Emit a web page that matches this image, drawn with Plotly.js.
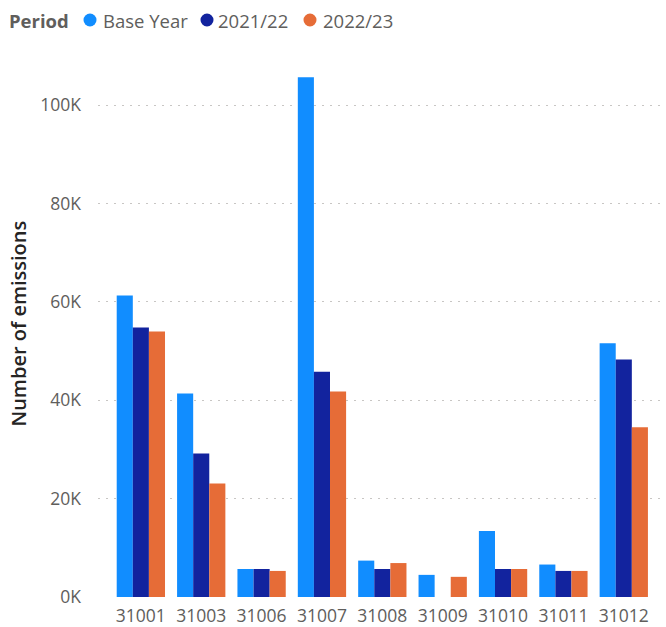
<!DOCTYPE html>
<html>
<head>
<meta charset="utf-8">
<script src="https://cdn.plot.ly/plotly-3.0.1.min.js"></script>
<style>
html,body{margin:0;padding:0;background:#fff;}
#chart{width:666px;height:627px;}
</style>
</head>
<body>
<div id="chart"></div>
<script>
const categories = ["31001","31003","31006","31007","31008","31009","31010","31011","31012"];
const seriesNames = ["Base Year","2021/22","2022/23"];
const legendTitle = "Period";
const yTitle = "Number of emissions";
const baseYear = [61300, 41400, 5700, 105700, 7400, 4500, 13400, 6600, 51600];
const y2021 = [54800, 29200, 5700, 45800, 5700, null, 5700, 5300, 48300];
const y2022 = [54000, 23100, 5300, 41800, 6900, 4100, 5700, 5300, 34500];
const colors = ["#118DFF","#12239E","#E66C37"];
const tickVals = [0, 20000, 40000, 60000, 80000, 100000];
const tickText = ["0K","20K","40K","60K","80K","100K"];

const values = [baseYear, y2021, y2022];
const font = "Open Sans, Segoe UI, sans-serif";

// plot geometry (pixels)
const W = 666, H = 627;
const M = {l: 98, r: 6, t: 56, b: 30};
const pw = W - M.l - M.r, ph = H - M.t - M.b;
const px2x = p => (p - M.l) / pw;
const py2y = p => (H - M.b - p) / ph;

const traces = values.map((v, i) => ({
  type: "bar",
  x: categories,
  y: v,
  name: seriesNames[i],
  marker: {color: colors[i]},
  showlegend: false,
  hoverinfo: "x+y+name"
}));

// custom legend (circle + text), positions in pixels
const legendY = 20;
const circleX = [90, 207, 310];
const textX = [101, 216, 321];
const annotations = [{
  xref: "paper", yref: "paper",
  x: px2x(7), y: py2y(legendY), xanchor: "left", yanchor: "middle",
  text: "<b>" + legendTitle + "</b>", showarrow: false,
  font: {family: font, size: 18.5, color: "#605E5C"}
}, {
  xref: "paper", yref: "paper",
  x: px2x(17.5), y: py2y(324), xanchor: "center", yanchor: "middle",
  text: yTitle, textangle: -90, showarrow: false,
  font: {family: font, size: 20, color: "#252423", weight: 600}
}];
const shapes = [];
seriesNames.forEach((n, i) => {
  annotations.push({
    xref: "paper", yref: "paper",
    x: px2x(textX[i]), y: py2y(legendY), xanchor: "left", yanchor: "middle",
    text: n, showarrow: false,
    font: {family: font, size: 18.5, color: "#605E5C"}
  });
  shapes.push({
    type: "circle",
    xref: "paper", yref: "paper",
    xsizemode: "pixel", ysizemode: "pixel",
    xanchor: px2x(circleX[i]), yanchor: py2y(legendY),
    x0: -6.5, x1: 6.5, y0: -6.5, y1: 6.5,
    fillcolor: colors[i], line: {width: 0}
  });
});

const layout = {
  width: W, height: H,
  margin: M,
  paper_bgcolor: "#fff", plot_bgcolor: "#fff",
  font: {family: font, color: "#605E5C", size: 18},
  barmode: "group",
  bargap: 0.2,
  bargroupgap: 0,
  showlegend: false,
  annotations: annotations,
  shapes: shapes,
  xaxis: {
    type: "category",
    range: [-0.71, 8.6],
    showgrid: false,
    zeroline: false,
    showline: false,
    ticks: "",
    ticklabelstandoff: 6,
    tickfont: {family: font, size: 17.5, color: "#605E5C"},
    fixedrange: true
  },
  yaxis: {
    range: [0, 110000],
    tickvals: tickVals,
    ticktext: tickText,
    showgrid: true,
    gridcolor: "#C8C6C4",
    gridwidth: 1,
    griddash: "2px,6px",
    zeroline: false,
    showline: false,
    ticks: "",
    ticklabelstandoff: 16,
    tickfont: {family: font, size: 17.5, color: "#605E5C"},
    fixedrange: true
  }
};

Plotly.newPlot("chart", traces, layout, {displayModeBar: false, responsive: false});
</script>
</body>
</html>
